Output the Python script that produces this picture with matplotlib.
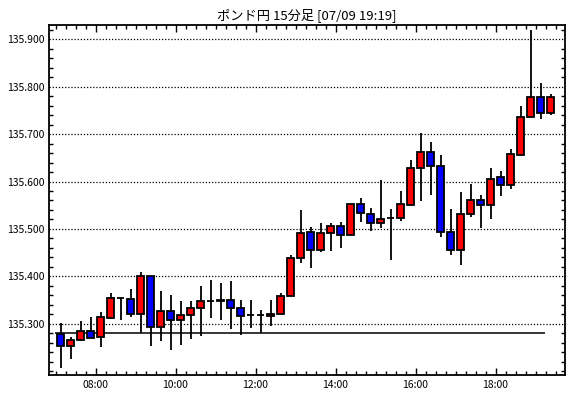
import matplotlib.pyplot as plt
from matplotlib.ticker import FixedLocator, MultipleLocator, FormatStrFormatter, NullFormatter

# 15分足 OHLC (07:00 - 19:15)
opens = [135.279, 135.254, 135.266, 135.285, 135.272, 135.312, 135.354, 135.352, 135.320, 135.401,
         135.294, 135.326, 135.308, 135.318, 135.333, 135.347, 135.347, 135.350, 135.333, 135.318,
         135.318, 135.316, 135.321, 135.359, 135.439, 135.494, 135.456, 135.492, 135.506, 135.488,
         135.553, 135.532, 135.513, 135.522, 135.523, 135.551, 135.629, 135.663, 135.633, 135.494,
         135.456, 135.532, 135.560, 135.551, 135.610, 135.592, 135.655, 135.737, 135.779, 135.744]
closes = [135.254, 135.266, 135.285, 135.271, 135.314, 135.354, 135.354, 135.320, 135.401, 135.294,
          135.326, 135.308, 135.319, 135.333, 135.348, 135.347, 135.350, 135.333, 135.316, 135.318,
          135.318, 135.321, 135.359, 135.439, 135.492, 135.456, 135.492, 135.506, 135.488, 135.553,
          135.533, 135.513, 135.521, 135.522, 135.552, 135.629, 135.663, 135.633, 135.494, 135.456,
          135.532, 135.560, 135.551, 135.606, 135.593, 135.657, 135.737, 135.779, 135.744, 135.779]
highs = [135.301, 135.273, 135.306, 135.315, 135.324, 135.365, 135.355, 135.374, 135.410, 135.401,
         135.370, 135.361, 135.349, 135.349, 135.379, 135.393, 135.387, 135.391, 135.351, 135.351,
         135.330, 135.351, 135.365, 135.446, 135.539, 135.504, 135.513, 135.513, 135.514, 135.553,
         135.566, 135.545, 135.604, 135.542, 135.580, 135.645, 135.703, 135.683, 135.655, 135.541,
         135.578, 135.594, 135.571, 135.629, 135.623, 135.668, 135.760, 135.920, 135.807, 135.784]
lows = [135.207, 135.225, 135.263, 135.269, 135.250, 135.310, 135.308, 135.315, 135.280, 135.254,
        135.263, 135.244, 135.256, 135.268, 135.275, 135.313, 135.308, 135.289, 135.277, 135.291,
        135.280, 135.296, 135.321, 135.359, 135.428, 135.417, 135.452, 135.453, 135.460, 135.488,
        135.514, 135.495, 135.502, 135.434, 135.516, 135.551, 135.559, 135.571, 135.483, 135.445,
        135.423, 135.525, 135.502, 135.521, 135.569, 135.584, 135.655, 135.737, 135.731, 135.741]
ref_price = 135.280
price_ticks = [135.3, 135.4, 135.5, 135.6, 135.7, 135.8, 135.9]
time_labels = ['08:00', '10:00', '12:00', '14:00', '16:00', '18:00']

plt.rcParams['font.family'] = ['Noto Sans CJK JP', 'DejaVu Sans']

fig = plt.figure(figsize=(5.70, 3.98), dpi=100)
ax = fig.add_axes([49 / 570, 23 / 398, 516 / 570, 350 / 398])

n = len(opens)
for i in range(n):
    o, c, h, l = opens[i], closes[i], highs[i], lows[i]
    if c > o:
        col = '#ff0000'
    elif c < o:
        col = '#0000ff'
    else:
        col = 'black'
    ax.vlines(i, l, h, color='black', linewidth=1.3, zorder=2)
    ax.bar(i, c - o, bottom=o, width=0.7, color=col, edgecolor='black',
           linewidth=1.3, zorder=3)

# 基準線
ax.hlines(ref_price, -0.55, n - 1.55, color='black', linewidth=1.1, zorder=1)

ax.set_xlim(-1.15, n + 0.45)
ax.set_ylim(135.192, 135.930)

# y軸
ax.yaxis.set_major_locator(FixedLocator(price_ticks))
ax.yaxis.set_minor_locator(MultipleLocator(0.02))
ax.yaxis.set_major_formatter(FormatStrFormatter('%.3f'))
ax.grid(axis='y', which='major', linestyle=(0, (1, 1.5)), color='black', linewidth=0.9)

# x軸
major_pos = [3.5 + 8 * k for k in range(len(time_labels))]
ax.xaxis.set_major_locator(FixedLocator(major_pos))
ax.set_xticklabels(time_labels)
ax.xaxis.set_minor_locator(FixedLocator([x - 0.5 for x in range(n + 1)]))
ax.xaxis.set_minor_formatter(NullFormatter())

ax.tick_params(which='both', direction='in', top=True, right=True, width=1, colors='black',
               labelsize=7.5)
ax.tick_params(which='major', length=5)
ax.tick_params(axis='y', which='major', length=0)
ax.tick_params(which='minor', length=3)
for s in ax.spines.values():
    s.set_linewidth(1.3)

ax.set_title('ポンド円 15分足 [07/09 19:19]', fontsize=9.5, pad=4)

fig.savefig('out.png', dpi=100)
